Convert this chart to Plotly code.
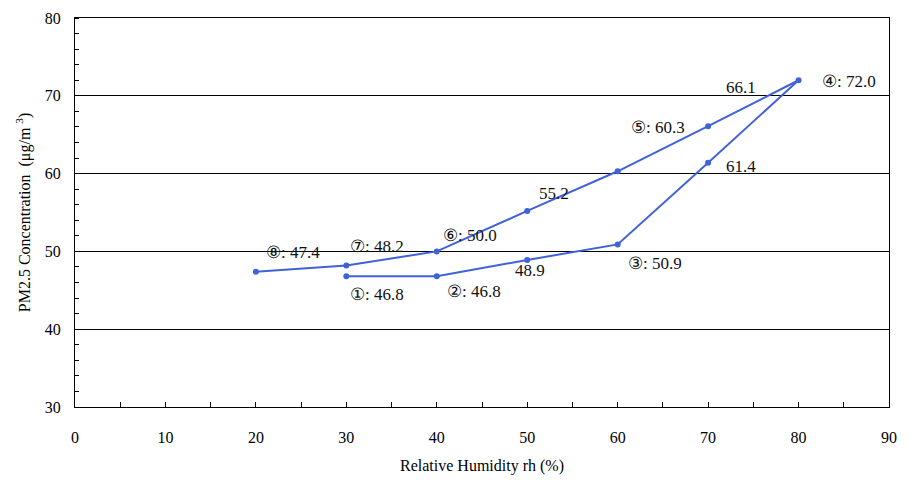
import plotly.graph_objects as go

# data (path order: rising branch then falling branch)
rh = [30, 40, 50, 60, 70, 80, 70, 60, 50, 40, 30, 20]
pm = [46.8, 46.8, 48.9, 50.9, 61.4, 72.0, 66.1, 60.3, 55.2, 50.0, 48.2, 47.4]

label_text = ["①: 46.8", "②: 46.8", "48.9", "③: 50.9", "61.4", "④: 72.0",
              "66.1", "⑤: 60.3", "55.2", "⑥: 50.0", "⑦: 48.2", "⑧: 47.4"]
label_x = [33.4, 44.1, 50.3, 64.1, 73.6, 85.6, 73.6, 64.5, 53.0, 43.7, 33.4, 24.1]
label_y = [44.4, 44.8, 47.6, 48.5, 60.85, 71.9, 71.1, 65.9, 57.5, 52.1, 50.6, 49.8]

x_ticks = list(range(0, 91, 10))
y_ticks = list(range(30, 81, 10))

FONT = "Liberation Serif, Times New Roman, serif"

fig = go.Figure()
fig.add_trace(go.Scatter(
    x=rh, y=pm, mode="lines+markers",
    line=dict(color="#3F62D8", width=2),
    marker=dict(color="#3F62D8", size=6),
    showlegend=False, hoverinfo="x+y",
))

for t, lx, ly in zip(label_text, label_x, label_y):
    fig.add_annotation(x=lx, y=ly, text=t, showarrow=False,
                       font=dict(family=FONT, size=17, color="#111111"))

fig.update_layout(
    width=912, height=482,
    margin=dict(l=67, r=31, t=10, b=83),
    paper_bgcolor="white", plot_bgcolor="white",
    font=dict(family=FONT, size=16, color="black"),
)
fig.update_xaxes(
    range=[0, 90], tickvals=x_ticks, showgrid=False, zeroline=False,
    showline=True, linecolor="black", linewidth=1, mirror=True,
    ticks="inside", ticklen=5, tickcolor="black",
    minor=dict(dtick=5, ticks="inside", ticklen=5, tickcolor="black", showgrid=False),
    ticklabelstandoff=16, automargin=False,
    tickfont=dict(family=FONT, size=16),
    title=dict(text="Relative Humidity rh (%)", font=dict(family=FONT, size=16), standoff=14),
)
fig.update_yaxes(
    range=[30, 80], tickvals=y_ticks, showgrid=True, gridcolor="black", gridwidth=1,
    zeroline=False,
    showline=True, linecolor="black", linewidth=1, mirror=True,
    ticks="",
    minor=dict(dtick=2, ticks="inside", ticklen=4, tickcolor="black", showgrid=False),
    ticklabelstandoff=10, automargin=False,
    tickfont=dict(family=FONT, size=16),
    title=dict(text="PM2.5 Concentration  (μg/m <sup>3</sup>)", font=dict(family=FONT, size=16), standoff=10),
)

fig.write_html("out.html")
